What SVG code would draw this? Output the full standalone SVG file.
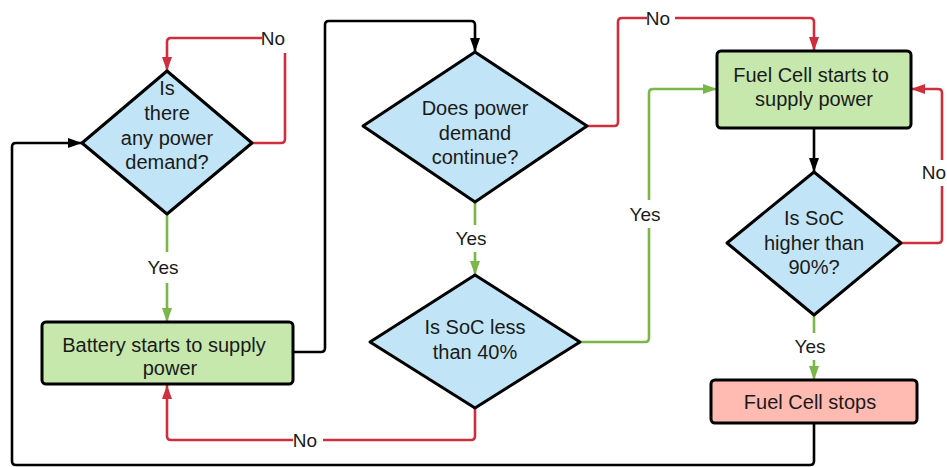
<svg xmlns="http://www.w3.org/2000/svg" width="947" height="467" viewBox="0 0 947 467">
<style>
.dia{fill:#c1e4f7;stroke:#000;stroke-width:3;stroke-linejoin:round}
.proc{fill:#c7e8ac;stroke:#000;stroke-width:3}
.stop{fill:#ffbbb1;stroke:#000;stroke-width:3}
text{font-family:"Liberation Sans",Arial,sans-serif;fill:#1a1a1a;text-anchor:middle}
.t{font-size:20px}
.l{font-size:19px}
.c{fill:none;stroke-width:2.6}
.k{stroke:#000}
.r{stroke:#cf2f3d}
.g{stroke:#7ab648}
.bg{fill:#fff}
</style>
<defs>
<marker id="ak" markerUnits="userSpaceOnUse" markerWidth="14" markerHeight="10" refX="14" refY="5" orient="auto"><path d="M0,0 L14,5 L0,10 z" fill="#000"/></marker>
<marker id="ar" markerUnits="userSpaceOnUse" markerWidth="14" markerHeight="10" refX="14" refY="5" orient="auto"><path d="M0,0 L14,5 L0,10 z" fill="#cf2f3d"/></marker>
<marker id="ag" markerUnits="userSpaceOnUse" markerWidth="14" markerHeight="10" refX="14" refY="5" orient="auto"><path d="M0,0 L14,5 L0,10 z" fill="#7ab648"/></marker>
</defs>
<g id="connectors">
<path class="c r" d="M252,143 H281 Q285,143 285,139 V42 Q285,38 281,38 H171 Q167,38 167,42 V71" marker-end="url(#ar)"/>
<path class="c g" d="M167,214 V322" marker-end="url(#ag)"/>
<path class="c k" d="M293,352 H321 Q325,352 325,348 V25 Q325,21 329,21 H471 Q475,21 475,25 V52" marker-end="url(#ak)"/>
<path class="c r" d="M587,126 H614 Q618,126 618,122 V22 Q618,18 622,18 H810 Q814,18 814,22 V51" marker-end="url(#ar)"/>
<path class="c g" d="M475,202 V275" marker-end="url(#ag)"/>
<path class="c g" d="M580,342 H645 Q649,342 649,338 V93 Q649,89 653,89 H717" marker-end="url(#ag)"/>
<path class="c r" d="M475,408 V436 Q475,440 471,440 H171 Q167,440 167,436 V385" marker-end="url(#ar)"/>
<path class="c k" d="M814,128 V172" marker-end="url(#ak)"/>
<path class="c r" d="M901,243 H938 Q942,243 942,239 V93 Q942,89 938,89 H911" marker-end="url(#ar)"/>
<path class="c g" d="M814,315 V380" marker-end="url(#ag)"/>
<path class="c k" d="M814,423 V461 Q814,465 810,465 H16 Q12,465 12,461 V147 Q12,143 16,143 H82" marker-end="url(#ak)"/>
<rect class="bg" x="262" y="24" width="26" height="29"/>
<text class="l" x="273" y="45">No</text>
<rect class="bg" x="145" y="252" width="36" height="31"/>
<text class="l" x="163" y="274">Yes</text>
<rect class="bg" x="647" y="6" width="28" height="24"/>
<text class="l" x="658" y="25">No</text>
<rect class="bg" x="453" y="225" width="36" height="27"/>
<text class="l" x="471" y="245">Yes</text>
<rect class="bg" x="627" y="200" width="36" height="28"/>
<text class="l" x="645" y="221">Yes</text>
<rect class="bg" x="293" y="428" width="30" height="24"/>
<text class="l" x="305" y="447">No</text>
<rect class="bg" x="921" y="160" width="26" height="26"/>
<text class="l" x="934" y="179">No</text>
<rect class="bg" x="792" y="333" width="36" height="27"/>
<text class="l" x="810" y="353">Yes</text>
</g>
<g id="n1">
<polygon class="dia" points="167,71 252,143 167,214 82,143"/>
<text class="t" x="167" y="95">Is</text>
<text class="t" x="167" y="120">there</text>
<text class="t" x="167" y="145">any power</text>
<text class="t" x="167" y="169">demand?</text>
</g>
<g id="n2">
<rect class="proc" x="42" y="322" width="251" height="62" rx="4"/>
<text class="t" x="164" y="352">Battery starts to supply</text>
<text class="t" x="170" y="375">power</text>
</g>
<g id="n3">
<polygon class="dia" points="475,52 587,126 475,202 363,126"/>
<text class="t" x="475" y="115">Does power</text>
<text class="t" x="475" y="140">demand</text>
<text class="t" x="475" y="164">continue?</text>
</g>
<g id="n4">
<polygon class="dia" points="475,275 580,342 475,408 370,342"/>
<text class="t" x="475" y="334">Is SoC less</text>
<text class="t" x="475" y="359">than 40%</text>
</g>
<g id="n5">
<rect class="proc" x="717" y="51" width="194" height="77" rx="4"/>
<text class="t" x="811" y="82">Fuel Cell starts to</text>
<text class="t" x="814" y="106">supply power</text>
</g>
<g id="n6">
<polygon class="dia" points="814,172 901,243 814,315 727,243"/>
<text class="t" x="814" y="225">Is SoC</text>
<text class="t" x="814" y="250">higher than</text>
<text class="t" x="814" y="274">90%?</text>
</g>
<g id="n7">
<rect class="stop" x="711" y="380" width="206" height="43" rx="4"/>
<text class="t" x="810" y="409">Fuel Cell stops</text>
</g>
</svg>
